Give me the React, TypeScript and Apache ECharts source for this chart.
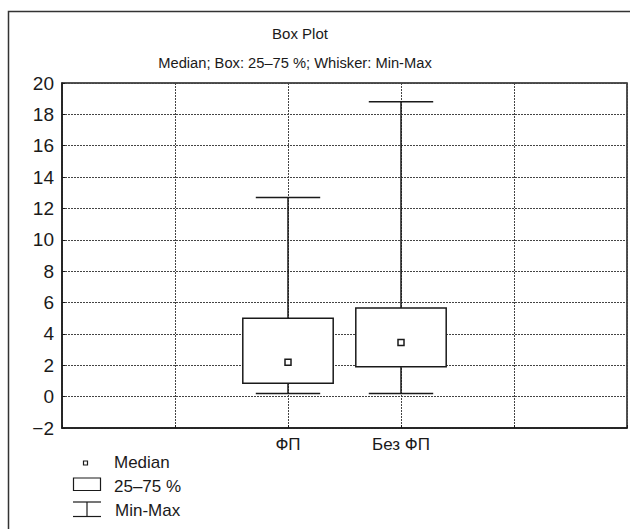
import React, { useEffect, useRef } from "react";
import * as echarts from "echarts";

const categories = ["", "", "ФП", "Без ФП", "", ""];
const groupIndex = [2, 3];
const minValues = [0.2, 0.2];
const q1Values = [0.85, 1.9];
const medianValues = [2.2, 3.45];
const q3Values = [5.0, 5.65];
const maxValues = [12.7, 18.8];
const yTicks = { min: -2, max: 20, interval: 2 };

const titleText = "Box Plot";
const subtitleText = "Median; Box: 25–75 %; Whisker: Min-Max";
const legendLabels = ["Median", "25–75 %", "Min-Max"];

const FONT = "'Liberation Sans', Arial, sans-serif";
const INK = "#1a1a1a";

export default function App() {
  const ref = useRef<HTMLDivElement>(null);
  useEffect(() => {
    if (!ref.current) return;
    const chart = echarts.init(ref.current, undefined, { renderer: "svg" });
    const boxData = groupIndex.map((g, i) => [
      g,
      minValues[i],
      q1Values[i],
      medianValues[i],
      q3Values[i],
      maxValues[i],
    ]);
    const renderItem = (params: any, api: any) => {
      const x = api.value(0);
      const pMin = api.coord([x, api.value(1)]);
      const pQ1 = api.coord([x, api.value(2)]);
      const pMed = api.coord([x, api.value(3)]);
      const pQ3 = api.coord([x, api.value(4)]);
      const pMax = api.coord([x, api.value(5)]);
      const band = api.size([1, 0])[0];
      const boxW = band * 0.8;
      const capW = band * 0.57;
      const cx = pMed[0];
      const lineStyle = { stroke: INK, lineWidth: 1.5, fill: null };
      return {
        type: "group",
        children: [
          { type: "line", shape: { x1: cx, y1: pMax[1], x2: cx, y2: pQ3[1] }, style: lineStyle },
          { type: "line", shape: { x1: cx, y1: pQ1[1], x2: cx, y2: pMin[1] }, style: lineStyle },
          { type: "line", shape: { x1: cx - capW / 2, y1: pMax[1], x2: cx + capW / 2, y2: pMax[1] }, style: lineStyle },
          { type: "line", shape: { x1: cx - capW / 2, y1: pMin[1], x2: cx + capW / 2, y2: pMin[1] }, style: lineStyle },
          {
            type: "rect",
            shape: { x: cx - boxW / 2, y: pQ3[1], width: boxW, height: pQ1[1] - pQ3[1] },
            style: { fill: "#fff", stroke: INK, lineWidth: 1.5 },
          },
          {
            type: "rect",
            shape: { x: cx - 3, y: pMed[1] - 3, width: 6, height: 6 },
            style: { fill: "#fff", stroke: INK, lineWidth: 1.5 },
          },
        ],
      };
    };
    const dash = { color: "#444", type: [2, 1] as any, width: 1 };
    chart.setOption({
      animation: false,
      backgroundColor: "#fff",
      textStyle: { fontFamily: FONT },
      grid: {
        left: 62,
        top: 83,
        right: 3,
        bottom: 101,
        show: true,
        borderColor: INK,
        borderWidth: 1.5,
      },
      xAxis: {
        type: "category",
        data: categories,
        boundaryGap: false,
        axisLine: { onZero: false, lineStyle: { color: INK, width: 1.5 } },
        axisTick: { show: true, inside: true, length: 3, lineStyle: { color: INK } },
        axisLabel: { interval: 0, color: INK, fontSize: 17, fontFamily: FONT, margin: 8 },
        splitLine: { show: true, lineStyle: dash },
      },
      yAxis: {
        type: "value",
        min: yTicks.min,
        max: yTicks.max,
        interval: yTicks.interval,
        axisLine: { show: true, lineStyle: { color: INK, width: 1.5 } },
        axisTick: { show: true, inside: true, length: 3, lineStyle: { color: INK } },
        axisLabel: {
          color: INK,
          fontSize: 19,
          fontFamily: FONT,
          margin: 8,
          formatter: (v: number) => String(v).replace("-", "\u2212"),
        },
        splitLine: { show: true, lineStyle: dash },
      },
      series: [
        {
          type: "custom",
          renderItem,
          data: boxData,
          encode: { x: 0, y: [1, 2, 3, 4, 5] },
          z: 3,
        },
      ],
      graphic: [
        {
          type: "rect",
          shape: { x: 8.5, y: 11.5, width: 700, height: 600 },
          style: { fill: null, stroke: "#333", lineWidth: 1.5 },
          silent: true,
          z: 100,
        },
        {
          type: "text",
          x: 300,
          y: 33,
          style: { text: titleText, fill: INK, font: `15px ${FONT}`, align: "center", verticalAlign: "middle" },
        },
        {
          type: "text",
          x: 295,
          y: 63,
          style: { text: subtitleText, fill: INK, font: `14.7px ${FONT}`, align: "center", verticalAlign: "middle" },
        },
        {
          type: "rect",
          shape: { x: 83.5, y: 461, width: 4, height: 4 },
          style: { fill: "#fff", stroke: INK, lineWidth: 1.2 },
        },
        {
          type: "rect",
          shape: { x: 73.5, y: 478, width: 27, height: 12.5 },
          style: { fill: "#fff", stroke: INK, lineWidth: 1.2 },
        },
        { type: "line", shape: { x1: 73, y1: 502, x2: 101, y2: 502 }, style: { stroke: INK, lineWidth: 1.2 } },
        { type: "line", shape: { x1: 73, y1: 516.5, x2: 101, y2: 516.5 }, style: { stroke: INK, lineWidth: 1.2 } },
        { type: "line", shape: { x1: 87, y1: 502, x2: 87, y2: 516.5 }, style: { stroke: INK, lineWidth: 1.2 } },
        {
          type: "text",
          x: 114,
          y: 462,
          style: { text: legendLabels[0], fill: INK, font: `17px ${FONT}`, verticalAlign: "middle" },
        },
        {
          type: "text",
          x: 114,
          y: 486,
          style: { text: legendLabels[1], fill: INK, font: `17px ${FONT}`, verticalAlign: "middle" },
        },
        {
          type: "text",
          x: 115,
          y: 510,
          style: { text: legendLabels[2], fill: INK, font: `17px ${FONT}`, verticalAlign: "middle" },
        },
      ],
    });
    return () => chart.dispose();
  }, []);
  return (
    <div
      ref={ref}
      style={{ position: "fixed", left: 0, top: 0, width: 630, height: 529 }}
    />
  );
}
